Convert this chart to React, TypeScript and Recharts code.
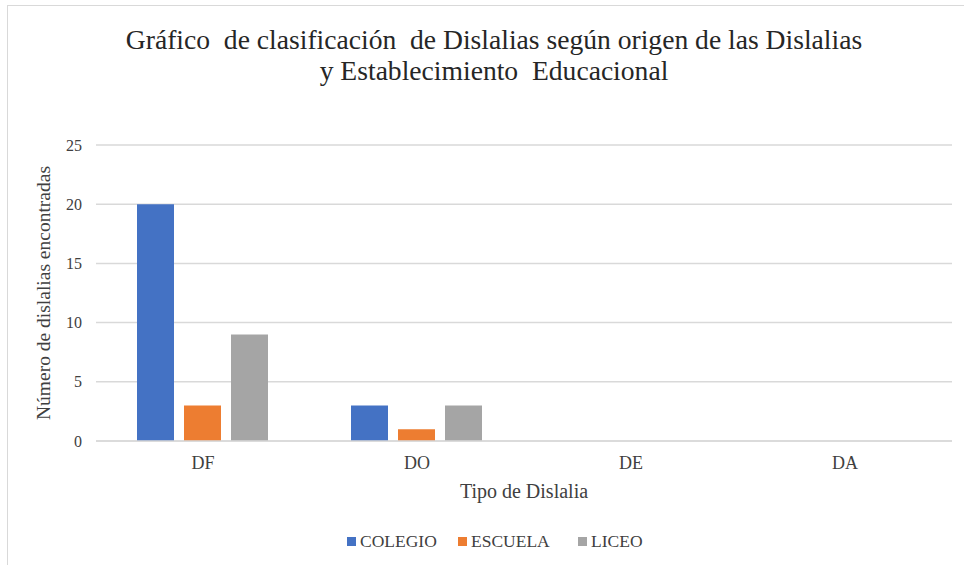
import { Bar, BarChart, CartesianGrid, Label, Legend, XAxis, YAxis } from "recharts";

const categorias = ["DF", "DO", "DE", "DA"];
const colegio = [20, 3, 0, 0];
const escuela = [3, 1, 0, 0];
const liceo = [9, 3, 0, 0];
const yTicks = [0, 5, 10, 15, 20, 25];

const series = [
  { key: "colegio", name: "COLEGIO", color: "#4472C4" },
  { key: "escuela", name: "ESCUELA", color: "#ED7D31" },
  { key: "liceo", name: "LICEO", color: "#A5A5A5" },
];

const titulo = [
  "Gráfico  de clasificación  de Dislalias según origen de las Dislalias",
  "y Establecimiento  Educacional",
];

const data = categorias.map((tipo, i) => ({
  tipo,
  colegio: colegio[i],
  escuela: escuela[i],
  liceo: liceo[i],
}));

const serif = "Liberation Serif";
const textColor = "#404040";

// legend item left edges, like the original layout
const legendX = [347, 458, 578];

function LegendContent() {
  return (
    <svg width={964} height={26} style={{ display: "block" }}>
      {series.map((s, i) => (
        <g key={s.key}>
          <rect x={legendX[i]} y={8} width={9} height={9} fill={s.color} />
          <text
            x={legendX[i] + 13}
            y={18}
            fontFamily={serif}
            fontSize={17.5}
            fill={textColor}
          >
            {s.name}
          </text>
        </g>
      ))}
    </svg>
  );
}

export default function App() {
  return (
    <div
      style={{
        position: "absolute",
        left: 0,
        top: 0,
        width: 964,
        height: 565,
        background: "#fff",
        overflow: "hidden",
      }}
    >
      <div
        style={{
          position: "absolute",
          left: 7,
          top: 5,
          width: 980,
          height: 600,
          borderLeft: "1.5px solid #d9d9d9",
          borderTop: "1.5px solid #d9d9d9",
        }}
      />
      <svg
        width={964}
        height={100}
        style={{ position: "absolute", left: 0, top: 0 }}
      >
        {titulo.map((line, i) => (
          <text
            key={i}
            x={494}
            y={49 + i * 31}
            textAnchor="middle"
            fontFamily={serif}
            fontSize={27.6}
            fill="#262626"
            style={{ whiteSpace: "pre" }}
          >
            {line}
          </text>
        ))}
      </svg>
      <BarChart
        width={964}
        height={565}
        data={data}
        margin={{ top: 145, right: 12, left: 0, bottom: 0 }}
        barCategoryGap={41}
        barGap={10}
        style={{ position: "absolute", left: 0, top: 0 }}
      >
        <CartesianGrid vertical={false} stroke="#d9d9d9" strokeWidth={1.5} />
        <XAxis
          dataKey="tipo"
          height={124}
          tickSize={0}
          tickMargin={15}
          axisLine={{ stroke: "#d9d9d9", strokeWidth: 1.5 }}
          tick={{ fontSize: 18, fill: textColor, fontFamily: serif }}
        >
          <Label
            content={({ viewBox }: any) => (
              <text
                x={viewBox.x + viewBox.width / 2}
                y={viewBox.y + 50}
                textAnchor="middle"
                dominantBaseline="central"
                fontFamily={serif}
                fontSize={20}
                fill={textColor}
              >
                Tipo de Dislalia
              </text>
            )}
          />
        </XAxis>
        <YAxis
          width={96}
          domain={[0, 25]}
          ticks={yTicks}
          tickSize={0}
          tickMargin={14}
          axisLine={false}
          tick={{ fontSize: 16, fill: textColor, fontFamily: serif }}
        >
          <Label
            content={({ viewBox }: any) => (
              <text
                x={43}
                y={viewBox.y + viewBox.height / 2}
                textAnchor="middle"
                dominantBaseline="central"
                transform={`rotate(-90, 43, ${viewBox.y + viewBox.height / 2})`}
                fontFamily={serif}
                fontSize={19.5}
                fill={textColor}
              >
                Número de dislalias encontradas
              </text>
            )}
          />
        </YAxis>
        <Legend
          layout="horizontal"
          verticalAlign="middle"
          align="center"
          content={() => <LegendContent />}
          wrapperStyle={{ top: 529, left: 0, width: 964 }}
        />
        {series.map((s) => (
          <Bar
            key={s.key}
            dataKey={s.key}
            name={s.name}
            fill={s.color}
            isAnimationActive={false}
          />
        ))}
      </BarChart>
    </div>
  );
}
